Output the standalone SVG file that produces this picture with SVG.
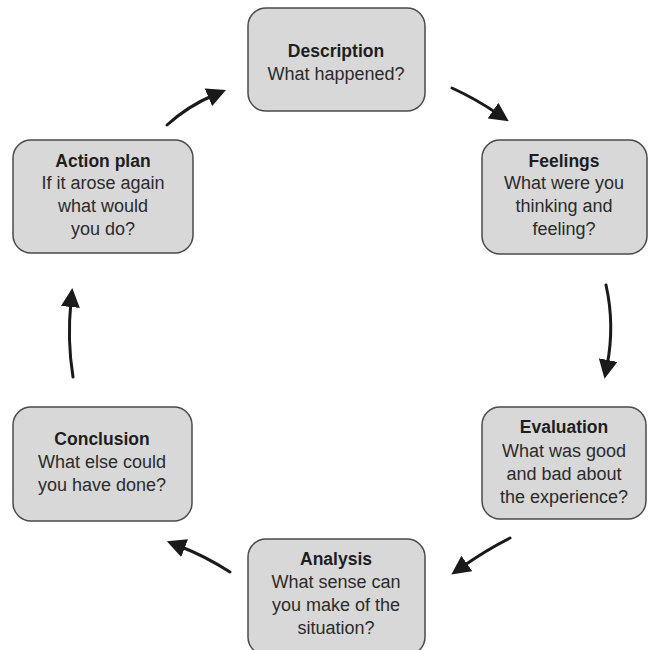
<svg xmlns="http://www.w3.org/2000/svg" width="649" height="650" viewBox="0 0 649 650">
<style>
.box{fill:#d8d8d8;stroke:#4a4a4a;stroke-width:1.5}
.t{font-family:"Liberation Sans",Arial,sans-serif;font-size:18px;fill:#2b2b2b;text-anchor:middle}
.b{font-weight:bold;font-size:17.5px;fill:#1e1e1e}
.arr{fill:none;stroke:#1a1a1a;stroke-width:3;stroke-linecap:round}
</style>
<defs>
<marker id="ah" markerUnits="userSpaceOnUse" markerWidth="21" markerHeight="19" refX="6" refY="9.5" orient="auto">
<path d="M0,0 L19,9.5 L0,19 z" fill="#1a1a1a"/>
</marker>
</defs>
<rect width="649" height="650" fill="#fff"/>
<g id="description">
<rect class="box" x="248" y="8" width="177" height="103" rx="18"/>
<text class="t b" x="336" y="57">Description</text>
<text class="t" x="336" y="80">What happened?</text>
</g>
<g id="feelings">
<rect class="box" x="482" y="140" width="165" height="114" rx="18"/>
<text class="t b" x="564" y="167">Feelings</text>
<text class="t" x="564" y="189">What were you</text>
<text class="t" x="564" y="212">thinking and</text>
<text class="t" x="564" y="235">feeling?</text>
</g>
<g id="evaluation">
<rect class="box" x="482" y="407" width="164" height="112" rx="18"/>
<text class="t b" x="564" y="433">Evaluation</text>
<text class="t" x="564" y="457">What was good</text>
<text class="t" x="564" y="480">and bad about</text>
<text class="t" x="564" y="503">the experience?</text>
</g>
<g id="analysis">
<rect class="box" x="248" y="539" width="177" height="116" rx="18"/>
<text class="t b" x="336" y="565">Analysis</text>
<text class="t" x="336" y="588">What sense can</text>
<text class="t" x="336" y="611">you make of the</text>
<text class="t" x="336" y="634">situation?</text>
</g>
<g id="conclusion">
<rect class="box" x="13" y="407" width="179" height="114" rx="18"/>
<text class="t b" x="102" y="445">Conclusion</text>
<text class="t" x="102" y="468">What else could</text>
<text class="t" x="102" y="491">you have done?</text>
</g>
<g id="action-plan">
<rect class="box" x="13" y="140" width="180" height="113" rx="18"/>
<text class="t b" x="103" y="167">Action plan</text>
<text class="t" x="103" y="189">If it arose again</text>
<text class="t" x="103" y="212">what would</text>
<text class="t" x="103" y="235">you do?</text>
</g>
<g id="connectors">
<path class="arr" marker-end="url(#ah)" d="M167,125 Q188,106 214,95"/>
<path class="arr" marker-end="url(#ah)" d="M452,88 Q476,99 498,114"/>
<path class="arr" marker-end="url(#ah)" d="M606,285 Q615,325 607,366"/>
<path class="arr" marker-end="url(#ah)" d="M510,538 Q486,550 462,567"/>
<path class="arr" marker-end="url(#ah)" d="M230,572 Q205,556 179,546"/>
<path class="arr" marker-end="url(#ah)" d="M73,377 Q67,340 71,301"/>
</g>
</svg>
